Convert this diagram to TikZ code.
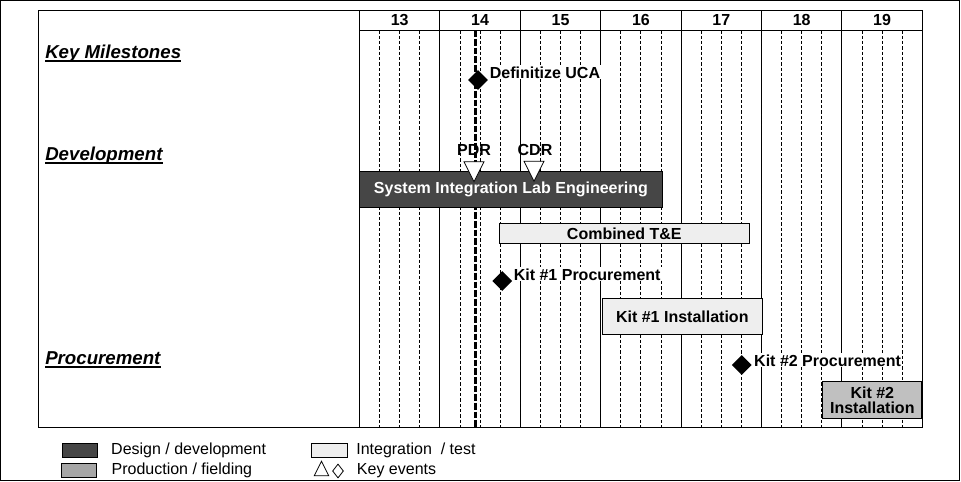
\documentclass[tikz,border=0pt]{standalone}
\usepackage{fontspec}
\setmainfont{Liberation Sans}
\usetikzlibrary{positioning, shapes.geometric}

\definecolor{devgray}{RGB}{70,70,70}
\definecolor{prodgray}{RGB}{166,166,166}
\definecolor{kitgray}{RGB}{192,192,192}
\definecolor{testgray}{RGB}{238,238,238}

\tikzset{
    bar/.style = {shape = rectangle, draw = black, line width = 0.75pt, inner sep = 0pt, align = center, font = \fontsize{12}{14}\selectfont\bfseries},
    milestone/.style = {shape = diamond, fill = black, minimum width = 15pt, minimum height = 15pt, inner sep = 0pt},
    review/.style = {shape = isosceles triangle, isosceles triangle stretches, shape border rotate = 270, draw = black, fill = white, line width = 0.6pt, minimum width = 15pt, minimum height = 15pt, inner sep = 0pt},
    evlabel/.style = {anchor = base west, fill = white, inner sep = 0.75pt, font = \fontsize{12}{14}\selectfont\bfseries},
    swimlane/.style = {anchor = base west, inner sep = 0pt, font = \fontsize{14}{16}\selectfont\bfseries\itshape},
    legbox/.style = {shape = rectangle, draw = black, line width = 0.75pt, minimum width = 26.5pt, minimum height = 10.5pt, inner sep = 0pt},
    legtext/.style = {inner sep = 0pt, font = \fontsize{12}{14}\selectfont},
    quarter/.style = {line width = 0.75pt, dash pattern = on 2.5pt off 1.5pt}
}

\begin{document}
\begin{tikzpicture}[x = 0.75pt, y = -0.75pt]
    \useasboundingbox (0, 0) rectangle (961, 482);
    \draw [line width = 0.75pt] (0.5, 0.5) rectangle (959.5, 480.5);

    % chart frame and year header
    \draw [line width = 0.75pt] (38.5, 10.5) rectangle (922.3, 427);
    \draw [line width = 0.75pt] (359.5, 30.3) -- (922.3, 30.3);
    \foreach \yr [count = \i from 0] in {13, ..., 19} {
        \pgfmathsetmacro{\xl}{359.5 + 80.4 * \i}
        \draw [line width = 0.75pt] (\xl, 10.5) -- (\xl, 427);
        \node [font = \fontsize{12}{14}\selectfont\bfseries] (yr\yr) at (\xl + 40.2, 20.4) {\yr};
        \foreach \q in {1, 2, 3}
            \draw [quarter] (\xl + 20.1 * \q, 30.3) -- (\xl + 20.1 * \q, 427);
    }

    % today line
    \coordinate (nowtop) at (475, 30.3);
    \coordinate (nowbot) at (475, 427);
    \draw [line width = 2.25pt, dash pattern = on 5pt off 1.5pt] (nowtop) -- (nowbot);

    % swimlanes
    \node [swimlane] (keyms) at (45, 58.3) {Key Milestones};
    \node [swimlane] (devel) at (45, 160.5) {Development};
    \node [swimlane] (procure) at (45, 364) {Procurement};
    \foreach \n in {keyms, devel, procure}
        \draw [line width = 1.5pt] ([yshift = -2pt] \n.base west) -- ([yshift = -2pt] \n.base east);

    % bars
    \node [bar, fill = devgray, text = white, minimum width = 227.1pt, minimum height = 26.7pt] (sil) at (510.9, 189.5) {System Integration Lab Engineering};
    \node [bar, fill = testgray, minimum width = 187.5pt, minimum height = 15pt] (cte) at (624.3, 233.3) {Combined T\&E};
    \node [bar, fill = testgray, minimum width = 120pt, minimum height = 27pt] (kit1inst) at (682.3, 316.3) {Kit \#1 Installation};
    \node [bar, fill = kitgray, minimum width = 74.5pt, minimum height = 27.75pt, font = \fontsize{12}{11.25}\selectfont\bfseries] (kit2inst) at (872.3, 399.8) {Kit \#2\\Installation};

    % key events
    \node [milestone] (uca) at (478, 80) {};
    \node [evlabel, xshift = 0.25pt, yshift = 1.5pt] (ucatext) at (uca.east) {Definitize UCA};
    \node [milestone] (kit1proc) at (502.3, 281) {};
    \node [evlabel, yshift = 0.75pt] (kit1proctext) at (kit1proc.east) {Kit \#1 Procurement};
    \node [milestone] (kit2proc) at (741.7, 365) {};
    \node [evlabel, xshift = 0.75pt, yshift = -0.75pt] (kit2proctext) at (kit2proc.east) {Kit \#2 Procurement};

    \node [review] (pdr) at (474, 168) {};
    \node [inner sep = 0pt, font = \fontsize{12}{14}\selectfont\bfseries] (pdrtext) at (474, 149.5) {PDR};
    \node [review] (cdr) at (534, 167.5) {};
    \node [inner sep = 0pt, font = \fontsize{12}{14}\selectfont\bfseries] (cdrtext) at (535, 149.5) {CDR};

    % legend
    \node [legbox, fill = devgray] (legdev) at (79.8, 450.3) {};
    \node [legtext, right = 9.75pt of legdev] (legdevtext) {Design / development};
    \node [legbox, fill = prodgray] (legprod) at (79.2, 470.5) {};
    \node [legtext, right = 10.5pt of legprod] (legprodtext) {Production / fielding};
    \node [legbox, fill = testgray] (legtest) at (329.5, 450.2) {};
    \node [legtext, right = 6.3pt of legtest] (legtesttext) {Integration\ \ / test};
    \node [shape = isosceles triangle, isosceles triangle stretches, shape border rotate = 90, draw = black, line width = 0.6pt, minimum width = 11pt, minimum height = 11pt, inner sep = 0pt] (legtri) at (321.5, 471.3) {};
    \node [shape = diamond, draw = black, line width = 0.6pt, minimum width = 8.25pt, minimum height = 10.5pt, inner sep = 0pt] (legdia) at (338, 471) {};
    \node [legtext, anchor = west] (legkeytext) at (356.7, 471) {Key events};
\end{tikzpicture}
\end{document}
